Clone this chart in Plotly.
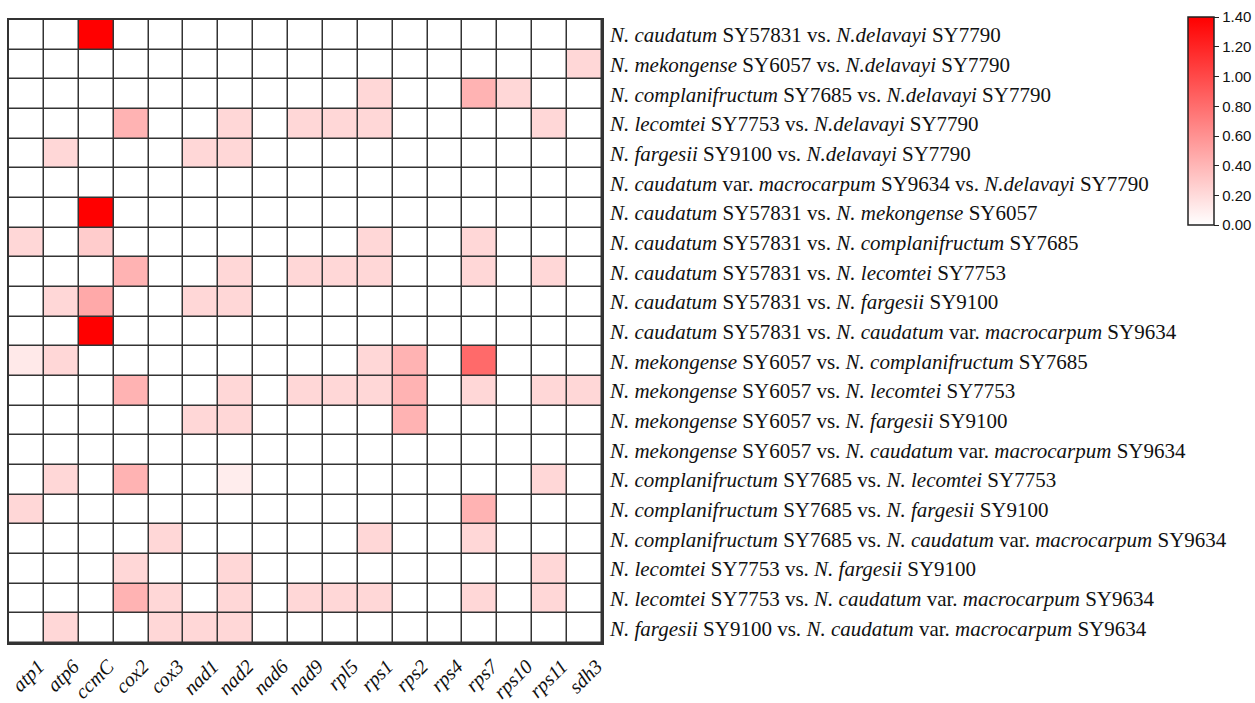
import plotly.graph_objects as go

genes = ["atp1", "atp6", "ccmC", "cox2", "cox3", "nad1", "nad2", "nad6", "nad9",
         "rpl5", "rps1", "rps2", "rps4", "rps7", "rps10", "rps11", "sdh3"]

pairs = [
    "<i>N. caudatum</i> SY57831 vs. <i>N.delavayi</i> SY7790",
    "<i>N. mekongense</i> SY6057 vs. <i>N.delavayi</i> SY7790",
    "<i>N. complanifructum</i> SY7685 vs. <i>N.delavayi</i> SY7790",
    "<i>N. lecomtei</i> SY7753 vs. <i>N.delavayi</i> SY7790",
    "<i>N. fargesii</i> SY9100 vs. <i>N.delavayi</i> SY7790",
    "<i>N. caudatum</i> var. <i>macrocarpum</i> SY9634 vs. <i>N.delavayi</i> SY7790",
    "<i>N. caudatum</i> SY57831 vs. <i>N. mekongense</i> SY6057",
    "<i>N. caudatum</i> SY57831 vs. <i>N. complanifructum</i> SY7685",
    "<i>N. caudatum</i> SY57831 vs. <i>N. lecomtei</i> SY7753",
    "<i>N. caudatum</i> SY57831 vs. <i>N. fargesii</i> SY9100",
    "<i>N. caudatum</i> SY57831 vs. <i>N. caudatum</i> var. <i>macrocarpum</i> SY9634",
    "<i>N. mekongense</i> SY6057 vs. <i>N. complanifructum</i> SY7685",
    "<i>N. mekongense</i> SY6057 vs. <i>N. lecomtei</i> SY7753",
    "<i>N. mekongense</i> SY6057 vs. <i>N. fargesii</i> SY9100",
    "<i>N. mekongense</i> SY6057 vs. <i>N. caudatum</i> var. <i>macrocarpum</i> SY9634",
    "<i>N. complanifructum</i> SY7685 vs. <i>N. lecomtei</i> SY7753",
    "<i>N. complanifructum</i> SY7685 vs. <i>N. fargesii</i> SY9100",
    "<i>N. complanifructum</i> SY7685 vs. <i>N. caudatum</i> var. <i>macrocarpum</i> SY9634",
    "<i>N. lecomtei</i> SY7753 vs. <i>N. fargesii</i> SY9100",
    "<i>N. lecomtei</i> SY7753 vs. <i>N. caudatum</i> var. <i>macrocarpum</i> SY9634",
    "<i>N. fargesii</i> SY9100 vs. <i>N. caudatum</i> var. <i>macrocarpum</i> SY9634",
]

# values per gene, one entry per pair (top to bottom)
atp1  = [0, 0, 0, 0, 0, 0, 0, 0.22, 0, 0, 0, 0.12, 0, 0, 0, 0, 0.22, 0, 0, 0, 0]
atp6  = [0, 0, 0, 0, 0.22, 0, 0, 0, 0, 0.22, 0, 0.22, 0, 0, 0, 0.22, 0, 0, 0, 0, 0.22]
ccmC  = [1.40, 0, 0, 0, 0, 0, 1.40, 0.28, 0, 0.47, 1.40, 0, 0, 0, 0, 0, 0, 0, 0, 0, 0]
cox2  = [0, 0, 0, 0.42, 0, 0, 0, 0, 0.42, 0, 0, 0, 0.42, 0, 0, 0.42, 0, 0, 0.22, 0.42, 0]
cox3  = [0, 0, 0, 0, 0, 0, 0, 0, 0, 0, 0, 0, 0, 0, 0, 0, 0, 0.22, 0, 0.22, 0.22]
nad1  = [0, 0, 0, 0, 0.22, 0, 0, 0, 0, 0.22, 0, 0, 0, 0.22, 0, 0, 0, 0, 0, 0, 0.22]
nad2  = [0, 0, 0, 0.22, 0.22, 0, 0, 0, 0.22, 0.22, 0, 0, 0.22, 0.22, 0, 0.10, 0, 0, 0.22, 0.22, 0.22]
nad6  = [0, 0, 0, 0, 0, 0, 0, 0, 0, 0, 0, 0, 0, 0, 0, 0, 0, 0, 0, 0, 0]
nad9  = [0, 0, 0, 0.22, 0, 0, 0, 0, 0.22, 0, 0, 0, 0.22, 0, 0, 0, 0, 0, 0, 0.22, 0]
rpl5  = [0, 0, 0, 0.22, 0, 0, 0, 0, 0.22, 0, 0, 0, 0.22, 0, 0, 0, 0, 0, 0, 0.22, 0]
rps1  = [0, 0, 0.22, 0.22, 0, 0, 0, 0.22, 0.22, 0, 0, 0.22, 0.22, 0, 0, 0, 0, 0.22, 0, 0.22, 0]
rps2  = [0, 0, 0, 0, 0, 0, 0, 0, 0, 0, 0, 0.42, 0.42, 0.42, 0, 0, 0, 0, 0, 0, 0]
rps4  = [0, 0, 0, 0, 0, 0, 0, 0, 0, 0, 0, 0, 0, 0, 0, 0, 0, 0, 0, 0, 0]
rps7  = [0, 0, 0.42, 0, 0, 0, 0, 0.22, 0.22, 0, 0, 0.82, 0.22, 0, 0, 0, 0.42, 0.22, 0, 0.22, 0]
rps10 = [0, 0, 0.22, 0, 0, 0, 0, 0, 0, 0, 0, 0, 0, 0, 0, 0, 0, 0, 0, 0, 0]
rps11 = [0, 0, 0, 0.22, 0, 0, 0, 0, 0.22, 0, 0, 0, 0.22, 0, 0, 0.22, 0, 0, 0.22, 0.22, 0]
sdh3  = [0, 0.22, 0, 0, 0, 0, 0, 0, 0, 0, 0, 0, 0.22, 0, 0, 0, 0, 0, 0, 0, 0]

cb_ticks = [0.0, 0.2, 0.4, 0.6, 0.8, 1.0, 1.2, 1.4]

columns = [atp1, atp6, ccmC, cox2, cox3, nad1, nad2, nad6, nad9,
           rpl5, rps1, rps2, rps4, rps7, rps10, rps11, sdh3]
z = [[col[i] for col in columns] for i in range(len(pairs))]

SERIF = "Liberation Serif, Times New Roman, serif"
SANS = "Liberation Sans, Arial, sans-serif"

fig = go.Figure(go.Heatmap(
    z=z, x=genes, y=pairs,
    colorscale=[[0, "#ffffff"], [1, "#ff0000"]],
    zmin=0, zmax=1.4,
    xgap=1.5, ygap=1.5,
    colorbar=dict(
        x=1.989, xanchor="left", xpad=0,
        y=1.0045, yanchor="top", ypad=0,
        len=208, lenmode="pixels",
        thickness=26, thicknessmode="pixels",
        outlinewidth=1.5, outlinecolor="#222",
        tickvals=cb_ticks, ticktext=[f"{v:.2f}" for v in cb_ticks],
        ticks="outside", ticklen=5, tickwidth=1.2, tickcolor="#222",
        tickfont=dict(family=SANS, size=15, color="#111"),
    ),
    hoverongaps=False,
))

fig.update_layout(
    width=1255, height=703,
    margin=dict(l=9, r=653, t=20, b=60, autoexpand=False),
    plot_bgcolor="#333333",
    paper_bgcolor="white",
)
fig.update_xaxes(
    automargin=False,
    tickangle=-45, tickfont=dict(family=SERIF, size=20, color="#111"),
    tickprefix="<i>", ticksuffix="</i>",
    ticklabelshift=12, ticklabelstandoff=2,
    showgrid=False, zeroline=False, ticks="",
    showline=True, mirror=True, linecolor="#333333", linewidth=1.5,
)
fig.update_yaxes(
    automargin=False,
    autorange="reversed", side="right",
    tickfont=dict(family=SERIF, size=21, color="#111"),
    showgrid=False, zeroline=False, ticks="",
    showline=True, mirror=True, linecolor="#333333", linewidth=1.5,
    ticklabelstandoff=2,
)

fig.write_html("out.html")
